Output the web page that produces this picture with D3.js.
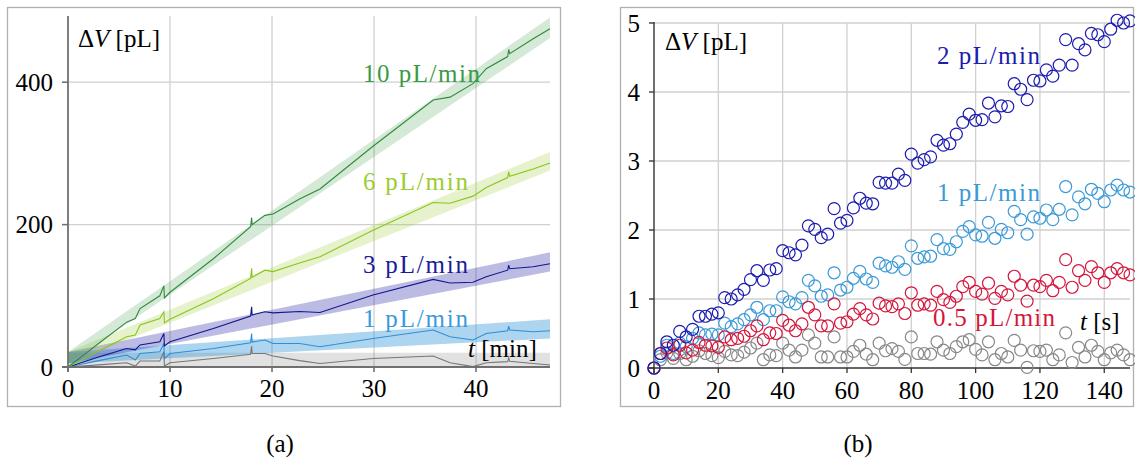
<!DOCTYPE html>
<html><head><meta charset="utf-8">
<script src="https://cdn.jsdelivr.net/npm/d3@7"></script>
</head>
<body style="margin:0">
<svg id="c" width="1135" height="461" font-family="Liberation Serif, serif"></svg>
<script>
// ---------------- DATA ----------------
// Panel (a): time samples [min] and volume curves [pL]
const tMin = [0, 3, 5.75, 6.6, 7.06, 9.0, 9.4, 9.45, 10, 14.25, 17.9, 18.0, 18.05, 19.3, 20.1, 22.7, 24.7, 29.9, 35.8, 37.45, 39.7, 41.0, 43.1, 43.2, 43.3, 45.6, 47.25];
const v10 = [0, 33, 63, 68, 82, 100, 114, 97, 105, 152, 197, 210, 200, 213, 215, 236, 250, 310, 375, 379, 398, 419, 436, 446, 440, 461, 475];
const v6  = [0, 22, 42.5, 45, 59, 68, 77.6, 62, 67, 96, 124.5, 138.5, 126, 136, 134, 146, 154.8, 192, 231, 230, 240, 252, 266, 274, 268, 278, 286.5];
const v3  = [0, 14, 26, 24, 31, 35.5, 47, 29.5, 35.5, 54, 71.6, 84.6, 73, 77.6, 76, 78, 76.5, 101, 123, 118, 119, 126.7, 136, 143, 138, 140.8, 145];
const v1  = [0, 9, 16.8, 9.8, 19, 21.5, 33, 12, 19, 26, 34, 47, 35, 38, 33, 33, 28.5, 40, 52, 42.5, 37.9, 47, 51, 57.5, 52, 49.6, 51];
const v0  = [0, 3, 6, 1.4, 8.4, 8.4, 21.5, 1.4, 6, 12, 18, 29.5, 19, 19, 15.4, 9, 5, 12, 15.4, 6, 0.5, 6, 7.5, 13, 8, 5, 2.8];
// uncertainty bands at start / end of the run [pL]
const bandT = [0, 47.25];
const band10Lo = [5, 462], band10Hi = [21, 491];
const band6Lo  = [5, 276], band6Hi  = [21, 302];
const band3Lo  = [5, 134], band3Hi  = [21, 161];
const band1Lo  = [5, 40],  band1Hi  = [21, 67];
const band0Lo  = [0, 0],   band0Hi  = [20, 20];
const seriesNamesA = ["10 pL/min", "6 pL/min", "3 pL/min", "1 pL/min"];
const xTicksA = [0, 10, 20, 30, 40];
const yTicksA = [0, 200, 400];

// Panel (b): time [s] sampled every 2 s and volume [pL]
const tSec = d3.range(0, 149, 2);
const p2 = [0,0.21,0.38,0.33,0.53,0.45,0.56,0.75,0.75,0.78,0.80,1.02,1.00,1.06,1.14,1.28,1.41,1.27,1.42,1.44,1.70,1.67,1.64,1.78,2.06,2.01,1.89,1.94,2.31,2.10,2.14,2.32,2.46,2.39,2.38,2.69,2.68,2.68,2.81,2.72,3.10,2.97,3.02,3.06,3.30,3.23,3.25,3.39,3.56,3.68,3.59,3.60,3.84,3.64,3.80,3.79,4.12,4.04,3.89,4.17,4.16,4.32,4.23,4.39,4.76,4.39,4.70,4.61,4.85,4.83,4.73,4.91,5.04,5.00,5.03];
const p1 = [0,0.17,0.33,0.21,0.36,0.31,0.43,0.51,0.48,0.49,0.48,0.65,0.60,0.64,0.70,0.77,0.88,0.70,0.83,0.83,1.03,0.96,0.93,1.02,1.27,1.19,1.04,1.06,1.38,1.13,1.17,1.30,1.40,1.29,1.24,1.52,1.48,1.46,1.54,1.43,1.77,1.59,1.61,1.62,1.86,1.73,1.72,1.83,1.98,2.05,1.93,1.91,2.11,1.88,2.01,1.96,2.27,2.15,1.94,2.19,2.17,2.29,2.15,2.30,2.63,2.22,2.48,2.38,2.59,2.53,2.41,2.58,2.65,2.58,2.55];
const p05 = [0,0.21,0.29,0.19,0.33,0.22,0.26,0.37,0.33,0.32,0.30,0.45,0.41,0.43,0.46,0.54,0.61,0.41,0.51,0.50,0.69,0.62,0.54,0.64,0.88,0.77,0.61,0.61,0.93,0.65,0.67,0.78,0.86,0.77,0.71,0.94,0.90,0.89,0.93,0.79,1.09,0.91,0.93,0.91,1.11,0.99,0.95,1.04,1.18,1.24,1.11,1.07,1.23,1.01,1.11,1.06,1.33,1.20,0.97,1.20,1.18,1.27,1.12,1.24,1.57,1.17,1.41,1.27,1.47,1.38,1.24,1.38,1.44,1.38,1.35];
const p0 = [0,0.12,0.22,0.14,0.21,0.12,0.17,0.25,0.21,0.18,0.15,0.24,0.19,0.18,0.23,0.29,0.36,0.12,0.19,0.18,0.36,0.26,0.16,0.26,0.48,0.36,0.16,0.16,0.45,0.16,0.16,0.24,0.33,0.20,0.12,0.36,0.25,0.28,0.24,0.125,0.45,0.21,0.21,0.20,0.38,0.26,0.21,0.31,0.38,0.41,0.27,0.19,0.38,0.12,0.21,0.16,0.40,0.26,0.01,0.25,0.24,0.26,0.12,0.19,0.51,0.08,0.30,0.16,0.33,0.24,0.12,0.22,0.26,0.19,0.12];
const seriesNamesB = ["2 pL/min", "1 pL/min", "0.5 pL/min"];
const xTicksB = [0, 20, 40, 60, 80, 100, 120, 140];
const yTicksB = [0, 1, 2, 3, 4, 5];

// ---------------- DRAW ----------------
const svg = d3.select("#c");
const FS = 25;
function txt(g) {
  return g.append("text")
    .style("font-family", "'Liberation Serif', serif", "important")
    .attr("font-size", FS);
}

// ----- Panel (a)
const xA = d3.scaleLinear().domain([0, 47.25]).range([68, 550]);
const yA = d3.scaleLinear().domain([0, 493]).range([367, 16]);
const gA = svg.append("g");
gA.append("rect").attr("x", 7.5).attr("y", 7.5).attr("width", 553).attr("height", 399)
  .attr("fill", "none").attr("stroke", "#b0b0b0").attr("stroke-width", 1.3);
gA.selectAll(".gx").data(xTicksA.filter(d => d > 0)).join("line")
  .attr("x1", d => xA(d)).attr("x2", d => xA(d)).attr("y1", yA(493)).attr("y2", yA(0) + 5)
  .attr("stroke", "#d0d0d0").attr("stroke-width", 1.3);
gA.selectAll(".gy").data(yTicksA.filter(d => d > 0)).join("line")
  .attr("x1", xA(0) - 6).attr("x2", xA(47.25)).attr("y1", d => yA(d)).attr("y2", d => yA(d))
  .attr("stroke", "#d0d0d0").attr("stroke-width", 1.3);
const bands = [
  [band0Lo, band0Hi, "#808080", 0.24],
  [band1Lo, band1Hi, "#3b9ad9", 0.42],
  [band3Lo, band3Hi, "#2a2aa8", 0.32],
  [band6Lo, band6Hi, "#9acd32", 0.25],
  [band10Lo, band10Hi, "#3a9a45", 0.22]
];
const area = d3.area().x(d => xA(d.t)).y0(d => yA(d.lo)).y1(d => yA(d.hi));
bands.forEach(([lo, hi, c, op]) => {
  gA.append("path").attr("d", area(bandT.map((t, i) => ({t, lo: lo[i], hi: hi[i]}))))
    .attr("fill", c).attr("fill-opacity", op);
});
const line = d3.line().x(d => xA(d[0])).y(d => yA(d[1]));
const linesA = [[v0, "#777777"], [v1, "#2e8fd6"], [v3, "#14148f"], [v6, "#8cc41c"], [v10, "#2e8b3c"]];
linesA.forEach(([v, c]) => {
  gA.append("path").attr("d", line(tMin.map((t, i) => [t, v[i]])))
    .attr("fill", "none").attr("stroke", c).attr("stroke-width", 1.1);
});
gA.append("line").attr("x1", xA(0)).attr("x2", xA(0)).attr("y1", yA(493)).attr("y2", yA(0) + 5)
  .attr("stroke", "#707070").attr("stroke-width", 1.8);
gA.append("line").attr("x1", xA(0) - 6).attr("x2", xA(47.25)).attr("y1", yA(0)).attr("y2", yA(0))
  .attr("stroke", "#707070").attr("stroke-width", 1.8);
gA.selectAll(".ty").data(yTicksA).join("line")
  .attr("x1", xA(0) - 6).attr("x2", xA(0)).attr("y1", d => yA(d)).attr("y2", d => yA(d))
  .attr("stroke", "#707070").attr("stroke-width", 1.5);
gA.selectAll(".tx").data(xTicksA).join("line")
  .attr("x1", d => xA(d)).attr("x2", d => xA(d)).attr("y1", yA(0)).attr("y2", yA(0) + 5)
  .attr("stroke", "#707070").attr("stroke-width", 1.5);
xTicksA.forEach(d => txt(gA).attr("x", xA(d)).attr("y", 397).attr("text-anchor", "middle").text(d));
yTicksA.forEach(d => txt(gA).attr("x", 53).attr("y", yA(d) + 8.5).attr("text-anchor", "end").text(d));
function dvLabel(g, x, y) {
  const t = txt(g).attr("x", x).attr("y", y);
  t.append("tspan").text("Δ");
  t.append("tspan").attr("font-style", "italic").text("V");
  t.append("tspan").text(" [pL]");
  return t;
}
dvLabel(gA, 78, 47);
const tl = txt(gA).attr("x", 468).attr("y", 357);
tl.append("tspan").attr("font-style", "italic").text("t");
tl.append("tspan").text(" [min]");
const labA = [
  [seriesNamesA[0], 82, "#3a9a45", 117],
  [seriesNamesA[1], 190, "#9acd32", 105],
  [seriesNamesA[2], 273, "#1a1a9a", 105],
  [seriesNamesA[3], 327, "#3b9ad9", 105]
];
labA.forEach(([s, y, c, w]) => {
  txt(gA).attr("x", 363).attr("y", y).attr("fill", c).attr("textLength", w).text(s);
});
txt(svg).attr("x", 280).attr("y", 452).attr("text-anchor", "middle").text("(a)");

// ----- Panel (b)
const xB = d3.scaleLinear().domain([0, 148]).range([654, 1130]);
const yB = d3.scaleLinear().domain([0, 5]).range([368, 23]);
const gB = svg.append("g");
gB.append("rect").attr("x", 620.5).attr("y", 7.5).attr("width", 513).attr("height", 399)
  .attr("fill", "none").attr("stroke", "#b0b0b0").attr("stroke-width", 1.3);
gB.selectAll(".gx").data(xTicksB.filter(d => d > 0)).join("line")
  .attr("x1", d => xB(d)).attr("x2", d => xB(d)).attr("y1", yB(5)).attr("y2", yB(0) + 5)
  .attr("stroke", "#d0d0d0").attr("stroke-width", 1.3);
gB.selectAll(".gy").data(yTicksB.filter(d => d > 0)).join("line")
  .attr("x1", xB(0) - 5).attr("x2", xB(148)).attr("y1", d => yB(d)).attr("y2", d => yB(d))
  .attr("stroke", "#d0d0d0").attr("stroke-width", 1.3);
gB.append("line").attr("x1", xB(0)).attr("x2", xB(0)).attr("y1", yB(5) - 1).attr("y2", yB(0) + 5)
  .attr("stroke", "#333").attr("stroke-width", 1.4);
gB.append("line").attr("x1", xB(0) - 5).attr("x2", xB(148)).attr("y1", yB(0)).attr("y2", yB(0))
  .attr("stroke", "#333").attr("stroke-width", 1.4);
gB.selectAll(".ty").data(yTicksB).join("line")
  .attr("x1", xB(0) - 5).attr("x2", xB(0)).attr("y1", d => yB(d)).attr("y2", d => yB(d))
  .attr("stroke", "#333").attr("stroke-width", 1.2);
gB.selectAll(".tx").data(xTicksB).join("line")
  .attr("x1", d => xB(d)).attr("x2", d => xB(d)).attr("y1", yB(0)).attr("y2", yB(0) + 5)
  .attr("stroke", "#333").attr("stroke-width", 1.2);
xTicksB.forEach(d => txt(gB).attr("x", xB(d)).attr("y", 399).attr("text-anchor", "middle").text(d));
yTicksB.forEach(d => txt(gB).attr("x", 640).attr("y", yB(d) + 8.5).attr("text-anchor", "end").text(d));
const scat = [[p0, "#888888"], [p1, "#3a9ad8"], [p05, "#d4163c"], [p2, "#1c1cb0"]];
scat.forEach(([v, c]) => {
  gB.append("g").selectAll("circle").data(tSec.map((t, i) => [t, v[i]])).join("circle")
    .attr("cx", d => xB(d[0])).attr("cy", d => yB(d[1])).attr("r", 6)
    .attr("fill", "none").attr("stroke", c).attr("stroke-width", 1.2);
});
dvLabel(gB, 665, 50);
const ts = txt(gB).attr("x", 1080).attr("y", 330);
ts.append("tspan").attr("font-style", "italic").text("t");
ts.append("tspan").text(" [s]");
const labB = [
  [seriesNamesB[0], 937, 64, "#1c1cb0", 103],
  [seriesNamesB[1], 937, 201, "#3a9ad8", 103],
  [seriesNamesB[2], 933, 326, "#d4163c", 122]
];
labB.forEach(([s, x, y, c, w]) => {
  txt(gB).attr("x", x).attr("y", y).attr("fill", c).attr("textLength", w).text(s);
});
txt(svg).attr("x", 858).attr("y", 452).attr("text-anchor", "middle").text("(b)");
</script></body></html>
